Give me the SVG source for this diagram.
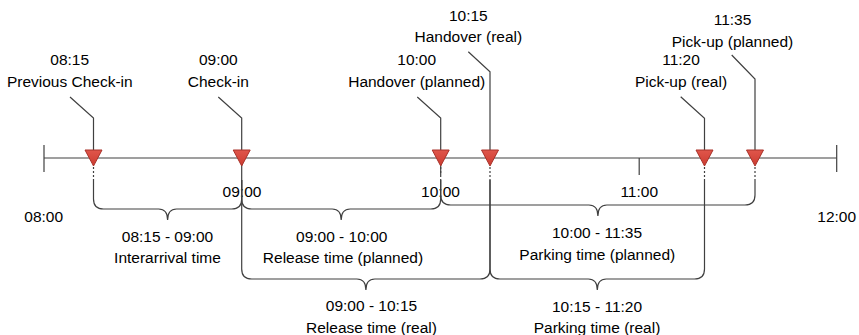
<svg xmlns="http://www.w3.org/2000/svg" width="859" height="335" viewBox="0 0 859 335">
<style>
  text { font-family: "Liberation Sans", Arial, sans-serif; font-size: 15.5px; fill: #000; text-anchor: middle; }
  .ln { fill: none; stroke: #404040; stroke-width: 1.2; }
  .dash { fill: none; stroke: #404040; stroke-width: 1.2; stroke-dasharray: 2 2; }
  .mk { fill: url(#mg); stroke: #a8322a; stroke-width: 1; }
</style>
<defs>
  <linearGradient id="mg" x1="0" y1="0" x2="0" y2="1">
    <stop offset="0" stop-color="#e0564b"/>
    <stop offset="1" stop-color="#cc3b30"/>
  </linearGradient>
</defs>
<rect width="859" height="335" fill="#fff"/>

<g id="timeline">
  <line class="ln" x1="44" y1="158" x2="836.7" y2="158"/>
  <line class="ln" x1="44" y1="145" x2="44" y2="172"/>
  <line class="ln" x1="836.7" y1="145" x2="836.7" y2="172"/>
  <line class="ln" x1="241.7" y1="158" x2="241.7" y2="180"/>
  <line class="ln" x1="440.7" y1="158" x2="440.7" y2="175"/>
  <line class="ln" x1="639.2" y1="158" x2="639.2" y2="175"/>
  <text x="43.7" y="221.5">08:00</text>
  <text x="242" y="196.5">09:00</text>
  <text x="440.5" y="196.5">10:00</text>
  <text x="639.2" y="196.5">11:00</text>
  <text x="836.7" y="221.5">12:00</text>
</g>

<g id="connectors">
  <polyline class="ln" points="70,97 93.5,118 93.5,150"/>
  <polyline class="ln" points="218.3,97 241.7,118 241.7,150"/>
  <polyline class="ln" points="417.3,97 440.7,118 440.7,150"/>
  <polyline class="ln" points="468.3,51.7 490,71.7 490,150"/>
  <polyline class="ln" points="680.7,96.7 704.5,118.3 704.5,150"/>
  <polyline class="ln" points="731.7,55 755,79 755,150"/>
  <line class="dash" x1="93.5" y1="167" x2="93.5" y2="180"/>
  <line class="dash" x1="440.7" y1="167" x2="440.7" y2="180"/>
  <line class="dash" x1="490" y1="167" x2="490" y2="180"/>
  <line class="dash" x1="704.5" y1="167" x2="704.5" y2="180"/>
  <line class="dash" x1="755" y1="167" x2="755" y2="180"/>
</g>

<g id="m-0815">
  <polygon class="mk" points="85,150 102,150 93.5,166"/>
  <text x="69.7" y="65">08:15</text>
  <text x="69.8" y="87">Previous Check-in</text>
</g>
<g id="m-0900">
  <polygon class="mk" points="233.2,150 250.2,150 241.7,166"/>
  <text x="218.3" y="65">09:00</text>
  <text x="218.3" y="87">Check-in</text>
</g>
<g id="m-1000">
  <polygon class="mk" points="432.2,150 449.2,150 440.7,166"/>
  <text x="416.7" y="65">10:00</text>
  <text x="416.7" y="87">Handover (planned)</text>
</g>
<g id="m-1015">
  <polygon class="mk" points="481.5,150 498.5,150 490,166"/>
  <text x="468.3" y="20.5">10:15</text>
  <text x="468.3" y="42">Handover (real)</text>
</g>
<g id="m-1120">
  <polygon class="mk" points="696,150 713,150 704.5,166"/>
  <text x="681" y="65">11:20</text>
  <text x="681" y="87">Pick-up (real)</text>
</g>
<g id="m-1135">
  <polygon class="mk" points="746.5,150 763.5,150 755,166"/>
  <text x="732.5" y="25">11:35</text>
  <text x="732.5" y="47">Pick-up (planned)</text>
</g>

<g id="b-interarrival">
  <path class="ln" d="M93.5,180 V199 Q93.5,209 103.5,209 H158.6 C164.6,209 167.6,213 167.6,220 C167.6,213 170.6,209 176.6,209 H231.7 Q241.7,209 241.7,199 V180"/>
  <text x="167.5" y="241.5">08:15 - 09:00</text>
  <text x="167.5" y="263.3">Interarrival time</text>
</g>
<g id="b-release-planned">
  <path class="ln" d="M241.7,180 V199 Q241.7,209 251.7,209 H332.2 C338.2,209 341.2,213 341.2,220 C341.2,213 344.2,209 350.2,209 H430.7 Q440.7,209 440.7,199 V180"/>
  <text x="341.7" y="241.5">09:00 - 10:00</text>
  <text x="343" y="263.3">Release time (planned)</text>
</g>
<g id="b-release-real">
  <path class="ln" d="M241.7,180 V269 Q241.7,279 251.7,279 H356.9 C362.9,279 365.9,283 365.9,290 C365.9,283 368.9,279 374.9,279 H480 Q490,279 490,269 V180"/>
  <text x="371.5" y="311.3">09:00 - 10:15</text>
  <text x="371.5" y="333">Release time (real)</text>
</g>
<g id="b-parking-planned">
  <path class="ln" d="M440.7,180 V195 Q440.7,205 450.7,205 H588.9 C594.9,205 597.9,209 597.9,216 C597.9,209 600.9,205 606.9,205 H745 Q755,205 755,195 V180"/>
  <text x="597" y="238">10:00 - 11:35</text>
  <text x="597.3" y="260">Parking time (planned)</text>
</g>
<g id="b-parking-real">
  <path class="ln" d="M490,180 V269 Q490,279 500,279 H588.3 C594.3,279 597.3,283 597.3,290 C597.3,283 600.3,279 606.3,279 H694.5 Q704.5,279 704.5,269 V180"/>
  <text x="597" y="311.5">10:15 - 11:20</text>
  <text x="597" y="333">Parking time (real)</text>
</g>
</svg>
